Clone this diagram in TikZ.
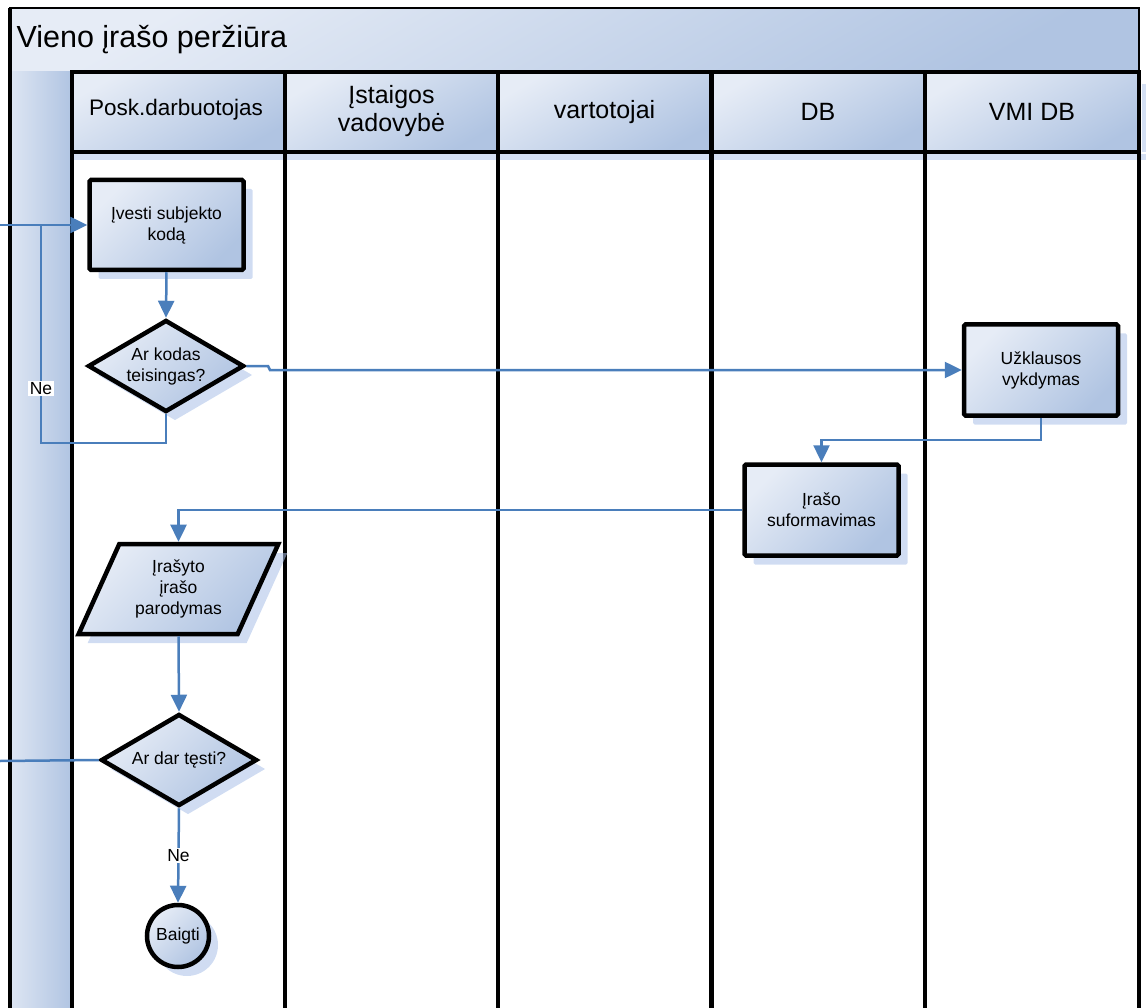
\documentclass[tikz,border=0pt]{standalone}
\usepackage{fontspec}
\setmainfont{Liberation Sans}
\usetikzlibrary{shapes.geometric,arrows.meta,shadows}
\definecolor{lightc}{RGB}{230,236,246}
\definecolor{darkc}{RGB}{176,196,226}
\definecolor{flowc}{RGB}{74,126,187}
\definecolor{shadowc}{RGB}{170,192,232}
\begin{document}
\begin{tikzpicture}[x=1pt,y=-1pt,
  shapefill/.style={top color=lightc,bottom color=darkc,shading angle=45},
  shp/.style={draw=black,line width=4.5pt,shapefill,align=center,inner sep=0pt,
    font=\fontsize{17.5}{21}\selectfont,
    drop shadow={shadow xshift=9pt,shadow yshift=-9pt,fill=shadowc,opacity=0.55}},
  procbox/.style={shp,rectangle,rounded corners=1.5pt},
  decbox/.style={shp,diamond,aspect=1.7},
  iobox/.style={shp,trapezium,trapezium left angle=63,trapezium right angle=117,trapezium stretches=true},
  endbox/.style={shp,circle},
  lanel/.style={line width=4.5pt,black},
  hdrtext/.style={align=center,font=\fontsize{25}{28}\selectfont},
  flow/.style={draw=flowc,line width=2.5pt},
  arr/.style={flow,-{Triangle[length=17pt,width=16pt]}},
  lbl/.style={fill=white,inner sep=1.5pt,font=\fontsize{17.5}{20}\selectfont}
]
\useasboundingbox (0,0) rectangle (1146,1008);
% title bar
\shade[top color=lightc,bottom color=darkc,shading angle=30] (9,8) rectangle (1139,72);
\draw[line width=1.5pt,black!80] (9,72) -- (1139,72);
\draw[line width=2.5pt] (9,8) -- (1139,8) -- (1139,72);
\node[anchor=west,font=\fontsize{30.5}{34}\selectfont] (title) at (13,40) {Vieno įrašo peržiūra};
% left bar
\shade[left color=lightc!85!darkc,right color=darkc] (9,72) rectangle (72,1010);
% header shadows
\fill[shadowc,opacity=0.5] (74,154) rectangle (1146,160);
\foreach \xx in {285,498,711.5,925,1139}{
  \fill[shadowc,opacity=0.5] (\xx+3,84) rectangle (\xx+8,152);
}
% lane headers
\foreach \xa/\xb in {72/285,285/498,498/711.5,711.5/925,925/1139}{
  \shade[top color=lightc,bottom color=darkc,shading angle=30] (\xa,72) rectangle (\xb,152);
}
\node[hdrtext,font=\fontsize{22.5}{26}\selectfont] (h1) at (176,110) {Posk.darbuotojas};
\node[hdrtext] (h2) at (391.5,111) {Įstaigos\\vadovybė};
\node[hdrtext] (h3) at (604.5,112) {vartotojai};
\node[hdrtext] (h4) at (818,112) {DB};
\node[hdrtext] (h5) at (1032,112) {VMI DB};
% lane lines
\draw[line width=4pt] (10,8) -- (10,1010);
\foreach \xx in {72,285,498,711.5,925,1139}{
  \draw[lanel] (\xx,72) -- (\xx,1010);
}
\draw[lanel] (70,72) -- (1141,72);
\draw[lanel] (70,152) -- (1141,152);
% shapes
\node[procbox,minimum width=154,minimum height=90] (n1) at (166.5,225) {Įvesti subjekto\\kodą};
\node[decbox,minimum width=156,minimum height=92] (d1) at (166,366) {Ar kodas\\teisingas?};
\node[procbox,minimum width=154,minimum height=91] (u) at (1041,370) {Užklausos\\vykdymas};
\node[procbox,minimum width=154,minimum height=91] (r) at (821.5,510) {Įrašo\\suformavimas};
\node[iobox,minimum width=200,minimum height=90] (p) at (178.5,589) {Įrašyto\\įrašo\\parodymas};
\node[decbox,minimum width=156,minimum height=92] (d2) at (179,760) {Ar dar tęsti?};
\node[endbox,minimum size=62] (c) at (178,936) {Baigti};
% connectors
\coordinate (inL) at (0,225);
\coordinate (loopL) at (41,443);
\coordinate (join) at (41,225);
\coordinate (outL) at (0,761);
\draw[arr] (inL) -- (n1.west);
\draw[flow] (d1.south) |- (loopL) -- node[lbl,pos=0.25]{Ne} (join);
\draw[arr] (n1.south) -- (d1.north);
\draw[arr] (d1.east) -- (268,366) -- (270,370) -- (u.west);
\draw[arr] (u.south) -- (u.south |- 0,440) -| (r.north);
\draw[arr] (r.west) -| (p.north);
\draw[arr] (p.south) -- (d2.north);
\draw[flow] (d2.west) -- (outL);
\draw[arr] (d2.south) -- node[lbl]{Ne} (c.north);
\end{tikzpicture}
\end{document}
